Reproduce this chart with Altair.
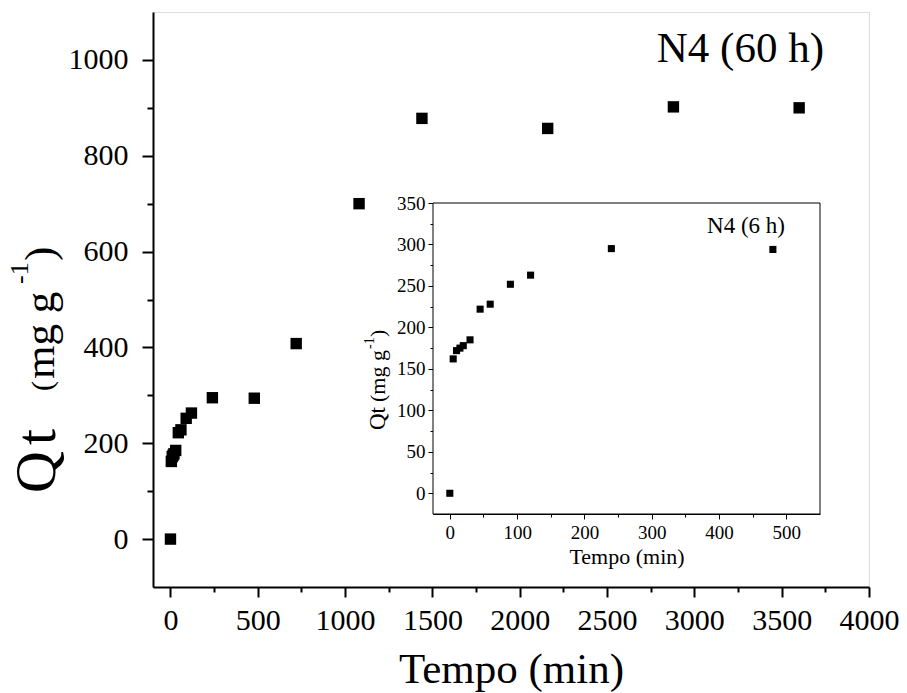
import altair as alt
import pandas as pd

# ---- data ----
main_t = [0, 5, 10, 15, 20, 30, 45, 60, 90, 120, 240, 480, 720, 1080, 1440, 2160, 2880, 3600]
main_q = [0, 162, 172, 175, 178, 185, 222, 228, 252, 263, 295, 294, 408, 700, 878, 857, 902, 900]
inset_t = [0, 5, 10, 15, 20, 30, 45, 60, 90, 120, 240, 480]
inset_q = [0, 162, 172, 175, 178, 185, 222, 228, 252, 263, 295, 294]

main_x_ticks = list(range(0, 4001, 250))
main_y_ticks = list(range(0, 1001, 100))
inset_x_ticks = list(range(0, 501, 50))
inset_y_ticks = list(range(0, 351, 25))

FONT = "Liberation Serif"
W, H = 716, 575
IX0, IX1, IY0, IY1 = 280, 667, 191, 502

main_df = pd.DataFrame({"t": main_t, "q": main_q})
inset_df = pd.DataFrame({"t6": inset_t, "q6": inset_q})
one = pd.DataFrame({"a": [0]})

main_pts = alt.Chart(main_df).mark_square(size=130, color="black", opacity=1).encode(
    x=alt.X("t:Q",
            scale=alt.Scale(domain=[-100, 4000], nice=False, zero=False),
            axis=alt.Axis(values=main_x_ticks, title="Tempo (min)",
                          labelExpr="datum.value % 500 === 0 ? datum.label : ''",
                          tickSize={"condition": {"test": "datum.value % 500 === 0", "value": 10}, "value": 5},
                          labelFontSize=30, titleFontSize=43, labelPadding=8, titlePadding=13,
                          domainWidth=2, tickWidth=2, domainColor="black", tickColor="black",
                          labelColor="black", titleColor="black", labelFont=FONT, titleFont=FONT,
                          titleFontWeight="normal", grid=False, format="d", labelFlush=False)),
    y=alt.Y("q:Q",
            scale=alt.Scale(domain=[-100, 1100], nice=False, zero=False),
            axis=alt.Axis(values=main_y_ticks, title=None,
                          labelExpr="datum.value % 200 === 0 ? datum.label : ''",
                          tickSize={"condition": {"test": "datum.value % 200 === 0", "value": 11}, "value": 6},
                          labelFontSize=30, labelPadding=14,
                          domainWidth=2, tickWidth=2, domainColor="black", tickColor="black",
                          labelColor="black", labelFont=FONT, grid=False, format="d", labelFlush=False)),
)

inset_frame = alt.Chart(one).mark_rect(fill="white", stroke="black", strokeWidth=1).encode(
    x=alt.value(IX0), x2=alt.value(IX1), y=alt.value(IY0), y2=alt.value(IY1)
)

inset_pts = alt.Chart(inset_df).mark_square(size=50, color="black", opacity=1).encode(
    x=alt.X("t6:Q",
            scale=alt.Scale(domain=[-25, 550], range=[IX0, IX1], nice=False, zero=False),
            axis=alt.Axis(orient="bottom", offset=IY1 - H, values=inset_x_ticks, title="Tempo (min)",
                          labelExpr="datum.value % 100 === 0 ? datum.label : ''",
                          tickSize={"condition": {"test": "datum.value % 100 === 0", "value": 5}, "value": 3},
                          labelFontSize=19, titleFontSize=22, labelPadding=4, titlePadding=4,
                          domainWidth=1, tickWidth=1, domainColor="black", tickColor="black",
                          labelColor="black", titleColor="black", labelFont=FONT, titleFont=FONT,
                          titleFontWeight="normal", grid=False, format="d", labelFlush=False)),
    y=alt.Y("q6:Q",
            scale=alt.Scale(domain=[-25, 350], range=[IY1, IY0], nice=False, zero=False),
            axis=alt.Axis(orient="left", offset=-IX0, values=inset_y_ticks, title=None,
                          labelExpr="datum.value % 50 === 0 ? datum.label : ''",
                          tickSize={"condition": {"test": "datum.value % 50 === 0", "value": 5}, "value": 3},
                          labelFontSize=19, labelPadding=3,
                          domainWidth=1, tickWidth=1, domainColor="black", tickColor="black",
                          labelColor="black", labelFont=FONT, grid=False, format="d", labelFlush=False)),
)


def txt(text, x, y, size, angle=0, align="left"):
    kw = dict(text=text, font=FONT, fontSize=size, color="black", align=align, baseline="alphabetic")
    if angle:
        kw["angle"] = angle
    return alt.Chart(one).mark_text(**kw).encode(x=alt.value(x), y=alt.value(y))


texts = [
    txt("N4 (60 h)", 671, 50, 43, align="right"),
    txt("N4 (6 h)", 632, 221, 23, align="right"),
    # main y title
    txt("Q", -98, 481, 58, angle=270),
    txt("t", -98, 433, 58, angle=270),
    txt("(", -101, 379, 30, angle=270),
    txt("mg g", -99, 367, 43, angle=270),
    txt("-1", -125, 272, 26, angle=270),
    txt(")", -99, 249, 43, angle=270),
    # inset y title
    txt("Qt", 232, 418, 23, angle=270),
    txt("(mg g", 232, 390, 22, angle=270),
    txt("-1", 221, 337, 14, angle=270),
    txt(")", 232, 325, 22, angle=270),
]

chart = alt.layer(main_pts, inset_frame, inset_pts, *texts).resolve_scale(
    x="independent", y="independent"
).properties(
    width=W, height=H,
    padding={"left": 153, "top": 12, "right": 38, "bottom": 106},
    autosize=alt.AutoSizeParams(type="none"),
).configure_view(stroke="black", strokeWidth=2).configure(background="white")

chart.save("out.html", embed_options={"renderer": "svg", "actions": False})
